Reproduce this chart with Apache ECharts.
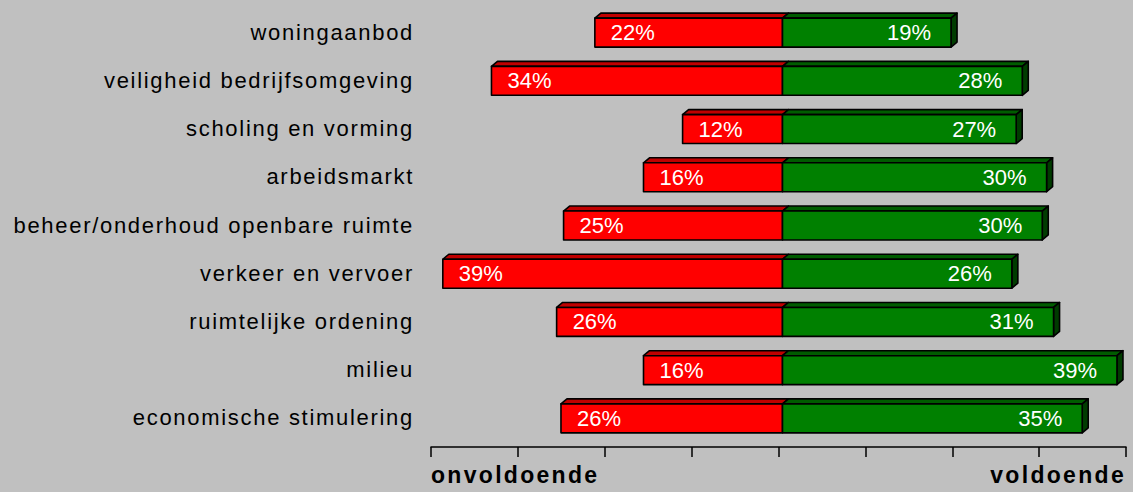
<!DOCTYPE html>
<html>
<head>
<meta charset="utf-8">
<script src="https://cdn.jsdelivr.net/npm/echarts@6/dist/echarts.min.js"></script>
<style>
  html, body { margin: 0; padding: 0; background: #C0C0C0; }
  #chart { width: 1133px; height: 492px; }
  #chart text[style*="Arial"] { letter-spacing: 1.7px; }
  #chart text[style*="bold"] { letter-spacing: 2.3px; }
</style>
</head>
<body>
<div id="chart"></div>
<script>
const categories = [
  'woningaanbod',
  'veiligheid bedrijfsomgeving',
  'scholing en vorming',
  'arbeidsmarkt',
  'beheer/onderhoud openbare ruimte',
  'verkeer en vervoer',
  'ruimtelijke ordening',
  'milieu',
  'economische stimulering'
];
const onvoldoende = [21.6, 33.5, 11.5, 16.0, 25.2, 39.1, 26.0, 16.0, 25.5];
const voldoende   = [19.4, 27.6, 26.9, 30.4, 29.9, 26.4, 31.2, 38.5, 34.5];
const axisEndLabels = { min: 'onvoldoende', max: 'voldoende' };

const chart = echarts.init(document.getElementById('chart'), null, { renderer: 'svg' });

function makeRender(isGreen) {
  return function (params, api) {
    const idx = api.value(0);
    const val = api.value(1);
    const p0 = api.coord([0, idx]);
    const p1 = api.coord([isGreen ? val : -val, idx]);
    const band = api.size([0, 1])[1];
    const h = band * 0.6;
    const shift = 4;
    const xl = Math.min(p0[0], p1[0]) + shift;
    const xr = Math.max(p0[0], p1[0]) + shift;
    const yTop = p0[1] - h / 2 + 0.5;
    const yBot = yTop + h;
    const dx = 6, dy = 5;
    const stroke = { stroke: '#000', lineWidth: 1.6, lineJoin: 'round' };
    const front = isGreen ? '#008000' : '#FF0000';
    const topCol = isGreen ? '#005C00' : '#C00000';
    const sideCol = '#003C00';
    const children = [
      { type: 'polygon', shape: { points: [[xl, yTop], [xl + dx, yTop - dy], [xr + dx, yTop - dy], [xr, yTop]] },
        style: Object.assign({ fill: topCol }, stroke) }
    ];
    if (isGreen) {
      children.push({ type: 'polygon', shape: { points: [[xr, yTop], [xr + dx, yTop - dy], [xr + dx, yBot - dy], [xr, yBot]] },
        style: Object.assign({ fill: sideCol }, stroke) });
    }
    children.push({ type: 'rect', shape: { x: xl, y: yTop, width: xr - xl, height: h },
      style: Object.assign({ fill: front }, stroke) });
    children.push({ type: 'text',
      style: {
        text: Math.round(val) + '%',
        x: isGreen ? xr - 20 : xl + 16,
        y: (yTop + yBot) / 2,
        align: isGreen ? 'right' : 'left',
        verticalAlign: 'middle',
        fill: '#fff',
        fontSize: 22,
        fontFamily: 'Liberation Sans'
      } });
    return { type: 'group', children: children };
  };
}

chart.setOption({
  backgroundColor: '#C0C0C0',
  animation: false,
  grid: { left: 431, right: 7, top: 8, bottom: 50, containLabel: false },
  xAxis: {
    type: 'value', min: -40, max: 40, interval: 10, offset: 5,
    axisLine: { show: true, lineStyle: { color: '#000', width: 1.5 } },
    axisTick: { show: true, length: 10, lineStyle: { color: '#000', width: 1.5 } },
    splitLine: { show: false },
    axisLabel: {
      color: '#000', fontSize: 23, fontWeight: 'bold', fontFamily: 'Arial', margin: 16,
      showMinLabel: true, showMaxLabel: true,
      alignMinLabel: 'left', alignMaxLabel: 'right',
      formatter: function (v) { return v === -40 ? axisEndLabels.min : (v === 40 ? axisEndLabels.max : ''); }
    }
  },
  yAxis: {
    type: 'category', data: categories, inverse: true,
    axisLine: { show: false }, axisTick: { show: false }, splitLine: { show: false },
    axisLabel: { color: '#000', fontSize: 22, fontFamily: 'Arial', margin: 17 }
  },
  series: [
    { type: 'custom', name: 'onvoldoende', renderItem: makeRender(false), clip: false,
      encode: { x: 1, y: 0 }, data: onvoldoende.map((v, i) => [i, v]) },
    { type: 'custom', name: 'voldoende', renderItem: makeRender(true), clip: false,
      encode: { x: 1, y: 0 }, data: voldoende.map((v, i) => [i, v]) }
  ]
});
</script>
</body>
</html>
